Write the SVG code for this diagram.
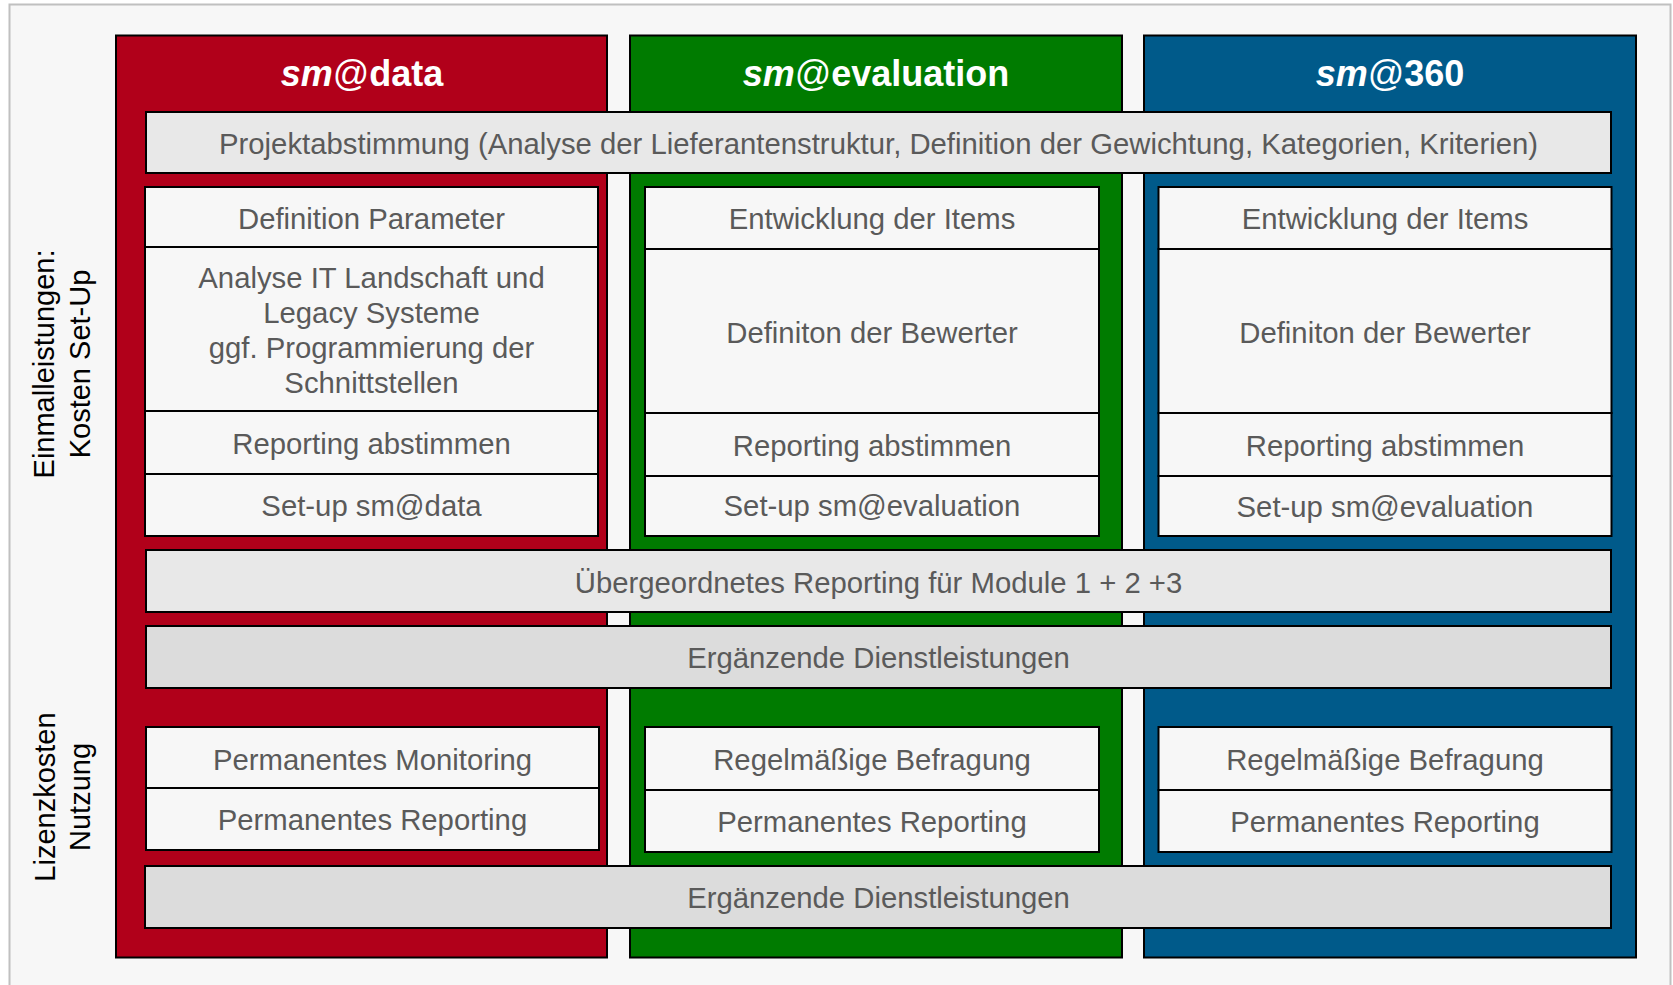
<svg xmlns="http://www.w3.org/2000/svg" width="1673" height="985" viewBox="0 0 1673 985">
<style>
.bg{fill:#f7f7f7}
.frame{fill:#f7f7f7;stroke:#c0c0c0;stroke-width:2}
.col{stroke:#000;stroke-width:2}
.red{fill:#b1001a}
.green{fill:#007b00}
.blue{fill:#005a8a}
.cell{fill:#f7f7f7;stroke:#000;stroke-width:2}
.bar1{fill:#e8e8e8;stroke:#000;stroke-width:2}
.bar2{fill:#dcdcdc;stroke:#000;stroke-width:2}
.t{font-family:"Liberation Sans",Arial,sans-serif;font-size:29.3px;fill:#5a5a5a;text-anchor:middle}
.h{font-family:"Liberation Sans",Arial,sans-serif;font-size:36px;font-weight:bold;fill:#fff;text-anchor:middle}
.side{font-family:"Liberation Sans",Arial,sans-serif;font-size:29px;fill:#000;text-anchor:middle}
</style>
<rect class="frame" x="9.5" y="4.5" width="1661" height="995"/>

<g id="col-data">
<rect class="col red" x="116" y="35.5" width="491" height="922"/>
<text class="h" x="362" y="86"><tspan font-style="italic">sm</tspan><tspan font-weight="normal">@</tspan>data</text>
</g>
<g id="col-evaluation">
<rect class="col green" x="630" y="35.5" width="492" height="922"/>
<text class="h" x="876" y="86"><tspan font-style="italic">sm</tspan><tspan font-weight="normal">@</tspan>evaluation</text>
</g>
<g id="col-360">
<rect class="col blue" x="1144" y="35.5" width="492" height="922"/>
<text class="h" x="1390" y="86"><tspan font-style="italic">sm</tspan><tspan font-weight="normal">@</tspan>360</text>
</g>

<g id="bar-projekt">
<rect class="bar1" x="146" y="112" width="1465" height="61"/>
<text class="t" x="878.5" y="154">Projektabstimmung (Analyse der Lieferantenstruktur, Definition der Gewichtung, Kategorien, Kriterien)</text>
</g>

<g id="data-setup">
<rect class="cell" x="145" y="187" width="453" height="60"/>
<text class="t" x="371.5" y="229">Definition Parameter</text>
<rect class="cell" x="145" y="247" width="453" height="164"/>
<text class="t" x="371.5" y="288">Analyse IT Landschaft und</text>
<text class="t" x="371.5" y="323">Legacy Systeme</text>
<text class="t" x="371.5" y="358">ggf. Programmierung der</text>
<text class="t" x="371.5" y="393">Schnittstellen</text>
<rect class="cell" x="145" y="411" width="453" height="63"/>
<text class="t" x="371.5" y="454">Reporting abstimmen</text>
<rect class="cell" x="145" y="474" width="453" height="62"/>
<text class="t" x="371.5" y="516">Set-up sm@data</text>
</g>

<g id="evaluation-setup">
<rect class="cell" x="645" y="187" width="454" height="62"/>
<text class="t" x="872" y="229">Entwicklung der Items</text>
<rect class="cell" x="645" y="249" width="454" height="164"/>
<text class="t" x="872" y="343">Definiton der Bewerter</text>
<rect class="cell" x="645" y="413" width="454" height="63"/>
<text class="t" x="872" y="456">Reporting abstimmen</text>
<rect class="cell" x="645" y="476" width="454" height="60"/>
<text class="t" x="872" y="516">Set-up sm@evaluation</text>
</g>

<g id="s360-setup">
<rect class="cell" x="1158.5" y="187" width="453" height="62"/>
<text class="t" x="1385" y="229">Entwicklung der Items</text>
<rect class="cell" x="1158.5" y="249" width="453" height="164"/>
<text class="t" x="1385" y="343">Definiton der Bewerter</text>
<rect class="cell" x="1158.5" y="413" width="453" height="63"/>
<text class="t" x="1385" y="456">Reporting abstimmen</text>
<rect class="cell" x="1158.5" y="476" width="453" height="60"/>
<text class="t" x="1385" y="517">Set-up sm@evaluation</text>
</g>

<g id="bar-reporting">
<rect class="bar1" x="146" y="550" width="1465" height="62"/>
<text class="t" x="878.5" y="593">Übergeordnetes Reporting für Module 1 + 2 +3</text>
</g>

<g id="bar-dienst1">
<rect class="bar2" x="146" y="626" width="1465" height="62"/>
<text class="t" x="878.5" y="668">Ergänzende Dienstleistungen</text>
</g>

<g id="data-lizenz">
<rect class="cell" x="146" y="727" width="453" height="61"/>
<text class="t" x="372.5" y="770">Permanentes Monitoring</text>
<rect class="cell" x="146" y="788" width="453" height="62"/>
<text class="t" x="372.5" y="830">Permanentes Reporting</text>
</g>

<g id="evaluation-lizenz">
<rect class="cell" x="645" y="727" width="454" height="63"/>
<text class="t" x="872" y="770">Regelmäßige Befragung</text>
<rect class="cell" x="645" y="790" width="454" height="62"/>
<text class="t" x="872" y="832">Permanentes Reporting</text>
</g>

<g id="s360-lizenz">
<rect class="cell" x="1158.5" y="727" width="453" height="63"/>
<text class="t" x="1385" y="770">Regelmäßige Befragung</text>
<rect class="cell" x="1158.5" y="790" width="453" height="62"/>
<text class="t" x="1385" y="832">Permanentes Reporting</text>
</g>

<g id="bar-dienst2">
<rect class="bar2" x="145" y="866" width="1466" height="62"/>
<text class="t" x="878.5" y="908">Ergänzende Dienstleistungen</text>
</g>

<g id="label-setup">
<text class="side" transform="translate(54,364) rotate(-90)">Einmalleistungen:</text>
<text class="side" transform="translate(90,364) rotate(-90)">Kosten Set-Up</text>
</g>
<g id="label-lizenz">
<text class="side" transform="translate(55,797) rotate(-90)">Lizenzkosten</text>
<text class="side" transform="translate(90,797) rotate(-90)">Nutzung</text>
</g>

<g id="connectors"></g>
</svg>
